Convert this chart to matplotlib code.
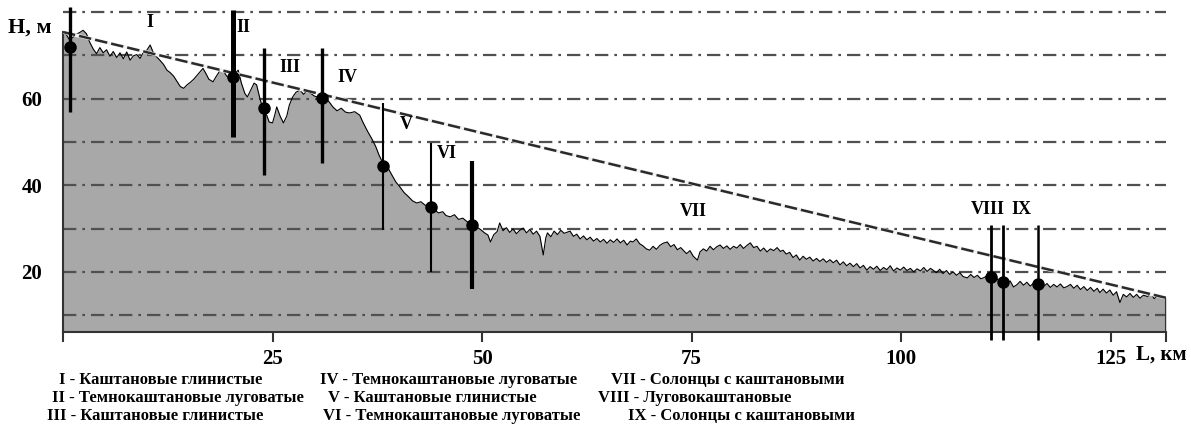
import matplotlib
matplotlib.use("Agg")
import matplotlib.pyplot as plt

# ======================================
# DATA
# ======================================

# ground profile: (distance, km ; height, m)
profile_points = [
    (0.0, 75.4), (0.4, 74.8), (0.8, 73.5), (1.2, 74.2), (1.6, 74.9), (2.0, 75.3),
    (2.4, 75.8), (2.8, 75.0), (3.2, 73.0), (3.6, 71.5), (4.0, 70.4), (4.4, 71.8),
    (4.8, 70.6), (5.2, 71.3), (5.6, 69.8), (6.0, 70.9), (6.4, 69.5), (6.8, 70.6),
    (7.2, 69.2), (7.6, 70.8), (8.0, 68.9), (8.4, 69.9), (8.8, 70.2), (9.2, 69.3),
    (9.6, 70.8), (10.0, 71.2), (10.4, 72.4), (10.8, 70.5), (11.2, 69.6), (11.6, 68.8),
    (12.0, 67.9), (12.4, 66.6), (12.8, 66.0), (13.2, 65.2), (13.6, 64.0), (14.0, 62.8),
    (14.4, 62.4), (14.8, 63.2), (15.2, 63.8), (15.6, 64.5), (16.0, 65.4), (16.4, 66.3),
    (16.7, 67.0), (17.0, 66.0), (17.4, 64.5), (17.9, 63.9), (18.3, 65.2), (18.7, 66.4),
    (19.1, 66.6), (19.5, 65.3), (19.9, 64.6), (20.3, 64.8), (20.6, 66.0), (20.9, 66.6),
    (21.3, 63.5), (21.7, 61.2), (22.0, 60.4), (22.4, 62.0), (22.8, 63.6), (23.1, 63.2),
    (23.5, 60.0), (23.9, 57.4), (24.3, 56.2), (24.6, 54.6), (25.0, 54.4), (25.3, 56.5),
    (25.5, 58.1), (25.9, 56.0), (26.3, 54.4), (26.7, 56.0), (27.0, 58.5), (27.4, 60.4),
    (27.8, 61.5), (28.3, 62.0), (28.7, 61.0), (29.1, 61.8), (29.5, 61.3), (30.0, 60.6),
    (30.7, 60.2), (31.2, 60.6), (31.7, 59.4), (32.2, 58.1), (32.7, 57.2), (33.2, 57.8),
    (33.7, 56.9), (34.2, 56.7), (34.8, 57.0), (35.4, 56.2), (35.8, 54.5), (36.3, 52.6),
    (36.8, 50.9), (37.3, 49.0), (37.7, 47.0), (38.2, 45.0), (38.7, 44.3), (39.2, 42.5),
    (39.7, 40.8), (40.2, 39.6), (40.7, 38.3), (41.2, 37.4), (41.7, 36.4), (42.2, 35.9),
    (42.7, 36.2), (43.2, 35.4), (43.8, 35.2), (44.3, 34.4), (44.8, 33.6), (45.3, 33.9),
    (45.7, 33.0), (46.2, 32.7), (46.7, 33.2), (47.2, 32.1), (47.7, 32.4), (48.2, 31.6),
    (48.8, 31.3), (49.3, 30.4), (49.8, 29.8), (50.3, 29.0), (50.7, 28.5), (51.0, 26.9),
    (51.4, 28.6), (51.8, 29.3), (52.1, 31.3), (52.5, 29.5), (52.9, 30.2), (53.3, 29.1),
    (53.7, 29.9), (54.1, 28.8), (54.5, 29.6), (54.9, 30.1), (55.3, 29.0), (55.7, 29.8),
    (56.1, 28.7), (56.5, 29.4), (56.9, 28.2), (57.3, 23.9), (57.6, 27.8), (57.8, 29.0),
    (58.2, 28.1), (58.6, 29.4), (59.0, 28.6), (59.4, 29.6), (59.8, 28.9), (60.2, 29.2),
    (60.5, 29.4), (60.9, 28.2), (61.3, 28.7), (61.7, 27.6), (62.1, 28.3), (62.5, 27.4),
    (62.9, 28.0), (63.3, 27.1), (63.7, 27.7), (64.1, 26.9), (64.5, 27.5), (64.9, 26.6),
    (65.3, 27.4), (65.7, 26.8), (66.1, 27.6), (66.5, 26.7), (66.9, 27.3), (67.3, 26.2),
    (67.7, 27.1), (68.0, 26.9), (68.4, 27.6), (68.8, 26.5), (69.2, 26.0), (69.6, 25.3),
    (70.0, 25.0), (70.4, 25.9), (70.8, 25.2), (71.2, 26.1), (71.6, 26.6), (72.1, 26.9),
    (72.5, 25.8), (72.9, 26.3), (73.3, 25.1), (73.7, 25.6), (74.0, 25.0), (74.4, 24.2),
    (74.8, 24.9), (75.2, 23.6), (75.7, 22.7), (76.0, 24.6), (76.4, 25.3), (76.8, 24.8),
    (77.2, 25.9), (77.6, 25.1), (78.0, 25.8), (78.4, 26.2), (78.8, 25.4), (79.2, 26.0),
    (79.6, 25.2), (80.0, 25.9), (80.4, 25.5), (80.8, 26.3), (81.2, 25.4), (81.6, 26.1),
    (82.0, 26.7), (82.4, 25.6), (82.8, 25.9), (83.2, 24.8), (83.6, 25.5), (84.0, 24.6),
    (84.4, 25.3), (84.8, 24.9), (85.2, 25.6), (85.6, 24.7), (85.9, 25.0), (86.3, 24.1),
    (86.7, 24.5), (87.1, 23.3), (87.5, 23.9), (87.9, 22.7), (88.3, 23.6), (88.7, 22.9),
    (89.1, 23.4), (89.5, 22.5), (89.9, 23.1), (90.3, 22.4), (90.7, 23.0), (91.1, 22.2),
    (91.5, 22.8), (91.9, 22.1), (92.3, 22.7), (92.7, 21.6), (93.1, 22.3), (93.5, 21.4),
    (93.9, 22.0), (94.3, 21.2), (94.7, 21.9), (95.1, 20.9), (95.5, 21.5), (95.9, 20.4),
    (96.3, 21.2), (96.7, 20.6), (97.1, 21.3), (97.5, 20.3), (97.9, 21.0), (98.3, 20.5),
    (98.7, 21.4), (99.1, 20.2), (99.5, 20.9), (99.9, 20.4), (100.3, 21.1), (100.7, 20.3),
    (101.1, 20.8), (101.5, 20.0), (101.9, 20.7), (102.3, 20.2), (102.7, 21.0), (103.1, 20.1),
    (103.5, 20.8), (103.8, 20.4), (104.2, 19.8), (104.6, 20.6), (105.0, 19.6), (105.4, 20.3),
    (105.8, 19.4), (106.2, 20.0), (106.6, 19.2), (107.0, 19.8), (107.4, 18.9), (107.9, 18.6),
    (108.3, 19.4), (108.7, 18.7), (109.1, 19.2), (109.5, 18.4), (109.8, 18.6), (110.2, 19.0),
    (110.6, 18.6), (111.0, 18.1), (111.4, 18.5), (111.8, 17.6), (112.2, 17.9), (112.6, 17.3),
    (113.0, 17.9), (113.4, 16.5), (113.8, 17.0), (114.2, 17.8), (114.6, 16.9), (115.0, 17.6),
    (115.4, 16.7), (115.8, 17.4), (116.2, 17.0), (116.6, 17.5), (117.0, 16.6), (117.4, 17.3),
    (117.8, 16.4), (118.2, 17.1), (118.6, 16.5), (119.0, 17.2), (119.4, 16.3), (119.8, 16.6),
    (120.2, 17.1), (120.6, 16.2), (121.0, 16.9), (121.4, 15.9), (121.8, 16.6), (122.2, 15.7),
    (122.6, 16.4), (123.0, 15.5), (123.4, 16.2), (123.7, 15.2), (124.1, 16.0), (124.5, 15.1),
    (124.9, 15.8), (125.3, 14.6), (125.7, 15.4), (126.1, 12.9), (126.5, 14.8), (126.9, 14.2),
    (127.3, 15.0), (127.7, 14.1), (128.1, 14.8), (128.5, 13.9), (128.9, 14.6), (129.4, 14.3),
    (129.8, 14.9), (130.2, 13.8), (130.6, 14.5), (131.0, 14.1), (131.6, 14.0),
]
profile_km = [p[0] for p in profile_points]
profile_h = [p[1] for p in profile_points]

# straight dashed line (general slope)
slope_km = [0.0, 131.6]
slope_h = [75.4, 14.0]

# soil pits: position, surface height, top and bottom of the bar
pit_km = [0.8, 20.3, 24.0, 30.9, 38.2, 43.9, 48.8, 110.7, 112.2, 116.3]
pit_surface = [72.0, 65.0, 57.8, 60.2, 44.5, 35.0, 30.9, 18.8, 17.7, 17.2]
pit_top = [81.2, 80.5, 71.7, 71.7, 59.0, 49.8, 45.6, 30.8, 30.8, 30.8]
pit_bottom = [57.0, 51.2, 42.4, 45.1, 29.7, 20.0, 16.1, 4.3, 4.3, 4.3]
pit_width = [2.4, 3.6, 2.4, 2.4, 1.5, 1.5, 3.0, 2.0, 2.0, 1.8]

# roman labels of soils
soil_labels = ['I', 'II', 'III', 'IV', 'V', 'VI', 'VII', 'VIII', 'IX']
soil_label_km = [10.4, 21.5, 27.1, 33.9, 41.0, 45.8, 75.2, 110.3, 114.4]
soil_label_h = [77.6, 76.5, 67.3, 65.0, 54.0, 47.4, 33.9, 34.3, 34.3]

legend_col1 = ['I - Каштановые глинистые',
               'II - Темнокаштановые луговатые',
               'III - Каштановые глинистые']
legend_col2 = ['IV - Темнокаштановые луговатые',
               'V - Каштановые глинистые',
               'VI - Темнокаштановые луговатые']
legend_col3 = ['VII - Солонцы с каштановыми',
               'VIII - Луговокаштановые',
               'IX - Солонцы с каштановыми']

grid_levels = [10, 20, 30, 40, 50, 60, 70, 80]
y_ticks = [20, 40, 60]
x_ticks = [0, 25, 50, 75, 100, 125, 131.6]
x_tick_labels = ['', '25', '50', '75', '100', '125', '']

# ======================================
# PLOT
# ======================================

W, H = 1191, 434
serif = ['Liberation Serif', 'DejaVu Serif']

fig = plt.figure(figsize=(W / 100, H / 100), dpi=100)
ax = fig.add_axes([63 / W, 102 / H, 1103 / W, 332 / H])
ax.set_xlim(0, 131.6)
ax.set_ylim(6.1, 82.8)

base = ax.get_ylim()[0]
ax.fill_between(profile_km, profile_h, base, color='#a8a8a8', lw=0, zorder=1)

for lev in grid_levels:
    ax.axhline(lev, color='#505050', lw=1.6, dashes=(6, 2.7, 1.2, 2.7),
               dash_capstyle='butt', zorder=2)

ax.plot(profile_km, profile_h, color='black', lw=0.8, zorder=3)

ax.plot(slope_km, slope_h, color='#f2f2f2', lw=2.6, zorder=4)
ax.plot(slope_km, slope_h, color='#2a2a2a', lw=1.8, dashes=(5, 1.6),
        dash_capstyle='butt', zorder=4)

for x, s, t, b, w in zip(pit_km, pit_surface, pit_top, pit_bottom, pit_width):
    ax.plot([x, x], [b, t], color='black', lw=w, solid_capstyle='butt',
            zorder=5, clip_on=False)
    ax.plot(x, s, 'o', color='black', ms=8, zorder=6, clip_on=False)

# right edge of the profile
ax.plot([slope_km[-1], slope_km[-1]], [base, profile_h[-1]], color='#333333',
        lw=1.5, zorder=5)

for lab, x, y in zip(soil_labels, soil_label_km, soil_label_h):
    ax.text(x, y, lab, family=serif, weight='bold', fontsize=13,
            ha='center', va='center', zorder=7)

for side in ['top', 'right']:
    ax.spines[side].set_visible(False)
ax.spines['left'].set_bounds(base, profile_h[0])
for side in ['left', 'bottom']:
    ax.spines[side].set_color('#333333')
    ax.spines[side].set_linewidth(1.5)

ax.set_xticks(x_ticks)
ax.set_xticklabels(x_tick_labels)
ax.tick_params(axis='x', direction='out', length=7, width=1.5,
               color='#333333', pad=5)
ax.set_yticks(y_ticks)
ax.set_yticklabels([str(v) for v in y_ticks])
ax.tick_params(axis='y', length=0, pad=15)
for lbl in ax.get_xticklabels() + ax.get_yticklabels():
    lbl.set_family(serif)
    lbl.set_fontweight('bold')
    lbl.set_fontsize(15)

fig.text(8 / W, 1 - 28 / H, 'H, м', family=serif, weight='bold',
         fontsize=16, ha='left', va='center')
fig.text(1136 / W, 1 - 355 / H, 'L, км', family=serif, weight='bold',
         fontsize=15, ha='left', va='center')

rows_y = [380, 398, 416]
for col, xs in [(legend_col1, [59, 52, 47]),
                (legend_col2, [320, 328, 323]),
                (legend_col3, [611, 598, 628])]:
    for txt, x, y in zip(col, xs, rows_y):
        fig.text(x / W, 1 - y / H, txt, family=serif, weight='bold',
                 fontsize=12, ha='left', va='center')

fig.savefig('out.png', dpi=100)
